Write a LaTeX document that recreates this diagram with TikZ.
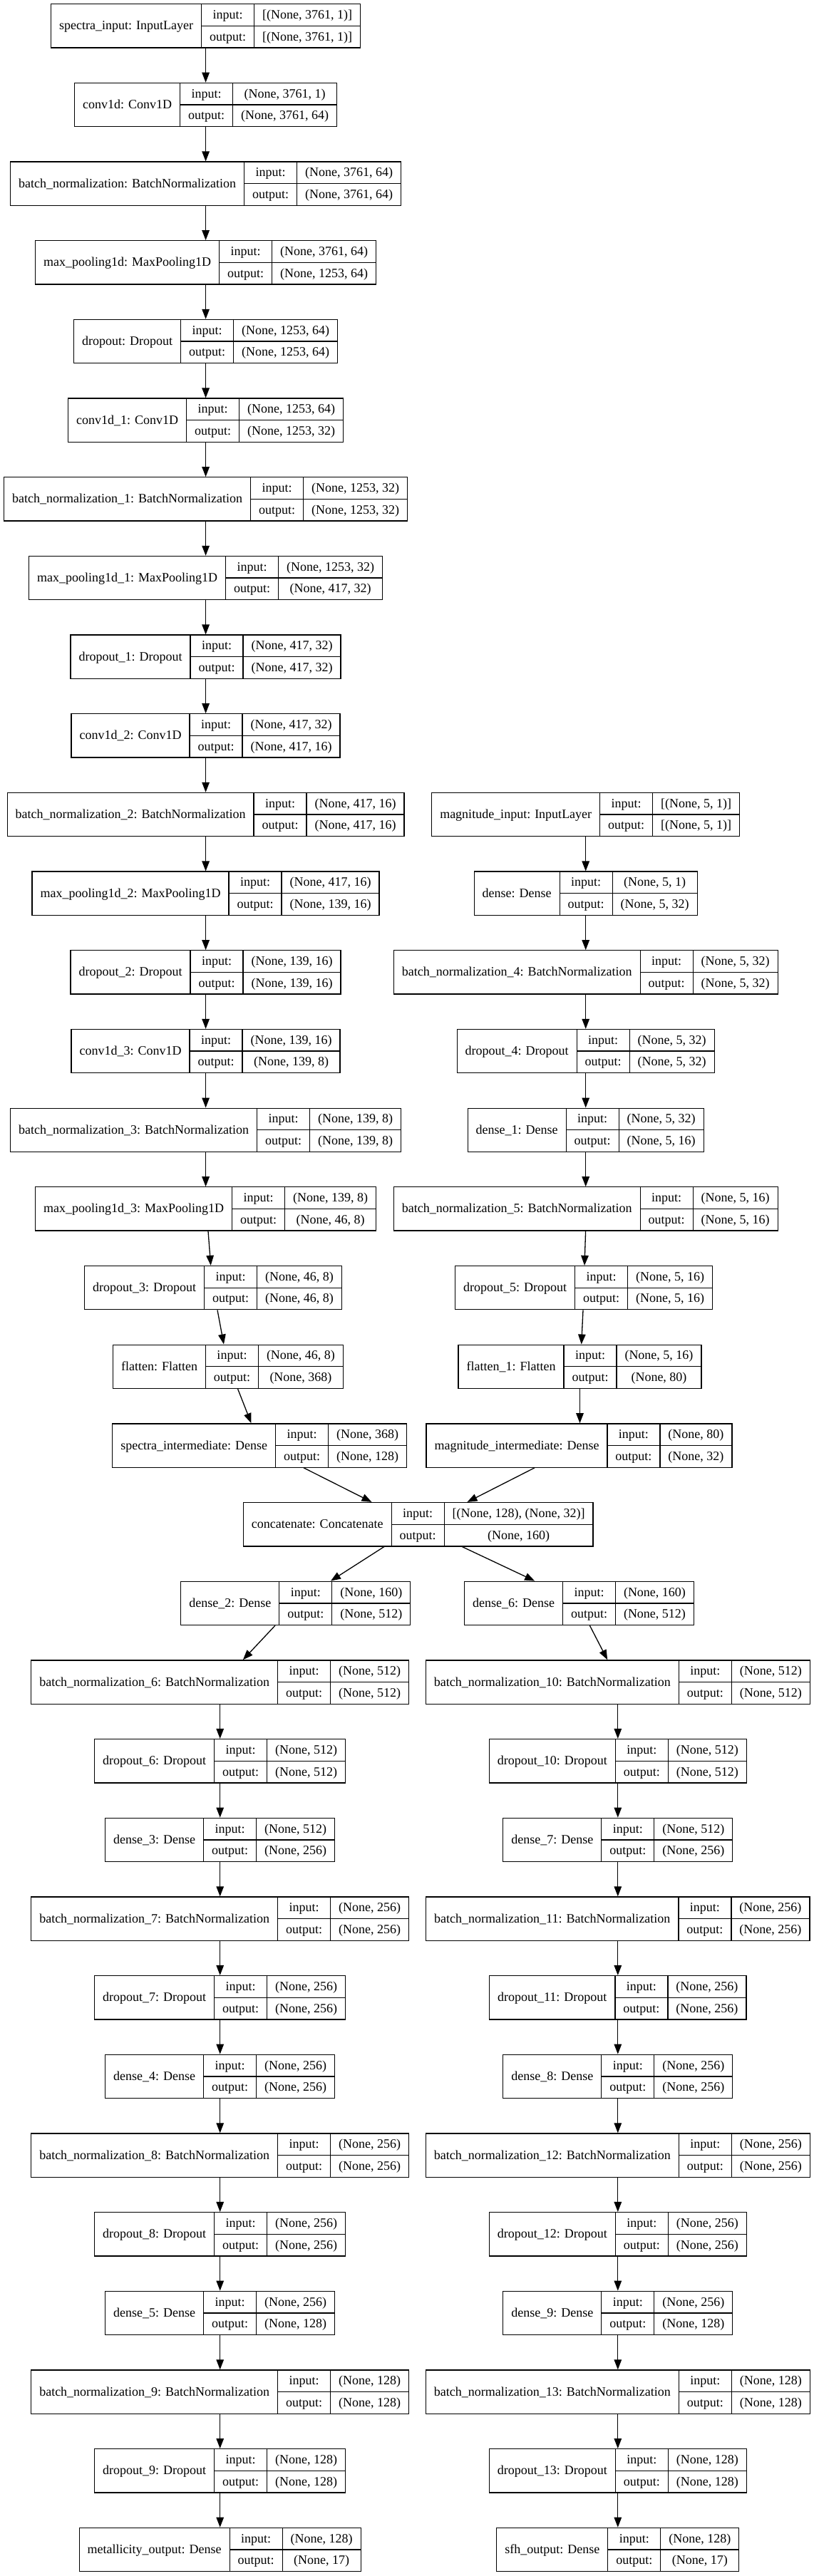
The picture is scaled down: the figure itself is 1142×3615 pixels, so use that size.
\documentclass[tikz,border=0pt]{standalone}
\usepackage{fontspec}
\setmainfont{Liberation Serif}
\usetikzlibrary{arrows.meta}
\newlength\lwA \newlength\lwB \newlength\lwC \newlength\lwD
\newcommand\lf{\fontsize{18}{21}\selectfont}
\tikzset{
  layerbox/.style={draw=black, line width=1.3pt, inner sep=0pt, minimum height=61.3pt},
  cellline/.style={draw=black, line width=1.3pt},
  txt/.style={anchor=base, inner sep=0pt, font=\lf},
  arr/.style={draw=black, line width=1.3pt, -{Triangle[length=14pt,width=10.5pt]}}
}
\newcommand\layer[6]{%
  \pgfinterruptpicture
    \settowidth\lwA{\lf #4}\global\lwA=\lwA
    \settowidth\lwB{\lf #5}\global\lwB=\lwB
    \settowidth\lwC{\lf #6}\global\lwC=\lwC
    \settowidth\lwD{\lf output:}\global\lwD=\lwD
  \endpgfinterruptpicture
  \ifdim\lwC>\lwB \global\lwB=\lwC\fi
  \pgfmathsetmacro\wa{\lwA+23}%
  \pgfmathsetmacro\wb{\lwD+23}%
  \pgfmathsetmacro\wc{\lwB+23}%
  \pgfmathsetmacro\tw{\wa+\wb+\wc}%
  \pgfmathsetmacro\yt{5.7+#3*110.675}%
  \pgfmathsetmacro\ym{\yt+30.65}%
  \pgfmathsetmacro\yb{\yt+61.3}%
  \pgfmathsetmacro\xl{#2-\tw/2}%
  \pgfmathsetmacro\xa{\xl+\wa}%
  \pgfmathsetmacro\xb{\xa+\wb}%
  \pgfmathsetmacro\xr{\xb+\wc}%
  \node[layerbox, minimum width=\tw pt] (#1) at (#2,\ym) {};
  \draw[cellline] (\xa,\yt) -- (\xa,\yb) (\xb,\yt) -- (\xb,\yb) (\xa,\ym) -- (\xr,\ym);
  \node[txt] at ({\xl+\wa/2},{\ym+5.5}) {#4};
  \node[txt] at ({\xa+\wb/2},{\yt+20.8}) {input:};
  \node[txt] at ({\xa+\wb/2},{\ym+20.8}) {output:};
  \node[txt] at ({\xb+\wc/2},{\yt+20.8}) {#5};
  \node[txt] at ({\xb+\wc/2},{\ym+20.8}) {#6};
}
\begin{document}
\begin{tikzpicture}[x=1pt,y=-1pt]
\useasboundingbox[fill=white] (0,0) rectangle (1142,3615);
% left upper column
\layer{L0}{288.6}{0}{spectra\_input: InputLayer}{[(None, 3761, 1)]}{[(None, 3761, 1)]}
\layer{L1}{288.6}{1}{conv1d: Conv1D}{(None, 3761, 1)}{(None, 3761, 64)}
\layer{L2}{288.6}{2}{batch\_normalization: BatchNormalization}{(None, 3761, 64)}{(None, 3761, 64)}
\layer{L3}{288.6}{3}{max\_pooling1d: MaxPooling1D}{(None, 3761, 64)}{(None, 1253, 64)}
\layer{L4}{288.6}{4}{dropout: Dropout}{(None, 1253, 64)}{(None, 1253, 64)}
\layer{L5}{288.6}{5}{conv1d\_1: Conv1D}{(None, 1253, 64)}{(None, 1253, 32)}
\layer{L6}{288.6}{6}{batch\_normalization\_1: BatchNormalization}{(None, 1253, 32)}{(None, 1253, 32)}
\layer{L7}{288.6}{7}{max\_pooling1d\_1: MaxPooling1D}{(None, 1253, 32)}{(None, 417, 32)}
\layer{L8}{288.6}{8}{dropout\_1: Dropout}{(None, 417, 32)}{(None, 417, 32)}
\layer{L9}{288.6}{9}{conv1d\_2: Conv1D}{(None, 417, 32)}{(None, 417, 16)}
\layer{L10}{288.6}{10}{batch\_normalization\_2: BatchNormalization}{(None, 417, 16)}{(None, 417, 16)}
\layer{L11}{288.6}{11}{max\_pooling1d\_2: MaxPooling1D}{(None, 417, 16)}{(None, 139, 16)}
\layer{L12}{288.6}{12}{dropout\_2: Dropout}{(None, 139, 16)}{(None, 139, 16)}
\layer{L13}{288.6}{13}{conv1d\_3: Conv1D}{(None, 139, 16)}{(None, 139, 8)}
\layer{L14}{288.6}{14}{batch\_normalization\_3: BatchNormalization}{(None, 139, 8)}{(None, 139, 8)}
\layer{L15}{288.6}{15}{max\_pooling1d\_3: MaxPooling1D}{(None, 139, 8)}{(None, 46, 8)}
\layer{L16}{299}{16}{dropout\_3: Dropout}{(None, 46, 8)}{(None, 46, 8)}
\layer{L17}{320}{17}{flatten: Flatten}{(None, 46, 8)}{(None, 368)}
\layer{L18}{364.2}{18}{spectra\_intermediate: Dense}{(None, 368)}{(None, 128)}
% right upper column
\layer{R10}{821.7}{10}{magnitude\_input: InputLayer}{[(None, 5, 1)]}{[(None, 5, 1)]}
\layer{R11}{821.7}{11}{dense: Dense}{(None, 5, 1)}{(None, 5, 32)}
\layer{R12}{821.7}{12}{batch\_normalization\_4: BatchNormalization}{(None, 5, 32)}{(None, 5, 32)}
\layer{R13}{821.7}{13}{dropout\_4: Dropout}{(None, 5, 32)}{(None, 5, 32)}
\layer{R14}{821.7}{14}{dense\_1: Dense}{(None, 5, 32)}{(None, 5, 16)}
\layer{R15}{821.7}{15}{batch\_normalization\_5: BatchNormalization}{(None, 5, 16)}{(None, 5, 16)}
\layer{R16}{819}{16}{dropout\_5: Dropout}{(None, 5, 16)}{(None, 5, 16)}
\layer{R17}{813.5}{17}{flatten\_1: Flatten}{(None, 5, 16)}{(None, 80)}
\layer{R18}{812.5}{18}{magnitude\_intermediate: Dense}{(None, 80)}{(None, 32)}
% merge
\layer{C19}{586.7}{19}{concatenate: Concatenate}{[(None, 128), (None, 32)]}{(None, 160)}
% left lower column
\layer{A20}{414.8}{20}{dense\_2: Dense}{(None, 160)}{(None, 512)}
\layer{A21}{308.7}{21}{batch\_normalization\_6: BatchNormalization}{(None, 512)}{(None, 512)}
\layer{A22}{308.7}{22}{dropout\_6: Dropout}{(None, 512)}{(None, 512)}
\layer{A23}{308.7}{23}{dense\_3: Dense}{(None, 512)}{(None, 256)}
\layer{A24}{308.7}{24}{batch\_normalization\_7: BatchNormalization}{(None, 256)}{(None, 256)}
\layer{A25}{308.7}{25}{dropout\_7: Dropout}{(None, 256)}{(None, 256)}
\layer{A26}{308.7}{26}{dense\_4: Dense}{(None, 256)}{(None, 256)}
\layer{A27}{308.7}{27}{batch\_normalization\_8: BatchNormalization}{(None, 256)}{(None, 256)}
\layer{A28}{308.7}{28}{dropout\_8: Dropout}{(None, 256)}{(None, 256)}
\layer{A29}{308.7}{29}{dense\_5: Dense}{(None, 256)}{(None, 128)}
\layer{A30}{308.7}{30}{batch\_normalization\_9: BatchNormalization}{(None, 128)}{(None, 128)}
\layer{A31}{308.7}{31}{dropout\_9: Dropout}{(None, 128)}{(None, 128)}
\layer{A32}{308.7}{32}{metallicity\_output: Dense}{(None, 128)}{(None, 17)}
% right lower column
\layer{B20}{812.5}{20}{dense\_6: Dense}{(None, 160)}{(None, 512)}
\layer{B21}{866.8}{21}{batch\_normalization\_10: BatchNormalization}{(None, 512)}{(None, 512)}
\layer{B22}{866.8}{22}{dropout\_10: Dropout}{(None, 512)}{(None, 512)}
\layer{B23}{866.8}{23}{dense\_7: Dense}{(None, 512)}{(None, 256)}
\layer{B24}{866.8}{24}{batch\_normalization\_11: BatchNormalization}{(None, 256)}{(None, 256)}
\layer{B25}{866.8}{25}{dropout\_11: Dropout}{(None, 256)}{(None, 256)}
\layer{B26}{866.8}{26}{dense\_8: Dense}{(None, 256)}{(None, 256)}
\layer{B27}{866.8}{27}{batch\_normalization\_12: BatchNormalization}{(None, 256)}{(None, 256)}
\layer{B28}{866.8}{28}{dropout\_12: Dropout}{(None, 256)}{(None, 256)}
\layer{B29}{866.8}{29}{dense\_9: Dense}{(None, 256)}{(None, 128)}
\layer{B30}{866.8}{30}{batch\_normalization\_13: BatchNormalization}{(None, 128)}{(None, 128)}
\layer{B31}{866.8}{31}{dropout\_13: Dropout}{(None, 128)}{(None, 128)}
\layer{B32}{866.8}{32}{sfh\_output: Dense}{(None, 128)}{(None, 17)}
% connectors
\foreach \a/\b in {L0/L1,L1/L2,L2/L3,L3/L4,L4/L5,L5/L6,L6/L7,L7/L8,L8/L9,L9/L10,L10/L11,L11/L12,L12/L13,L13/L14,L14/L15,
  R10/R11,R11/R12,R12/R13,R13/R14,R14/R15,
  A21/A22,A22/A23,A23/A24,A24/A25,A25/A26,A26/A27,A27/A28,A28/A29,A29/A30,A30/A31,A31/A32,
  B21/B22,B22/B23,B23/B24,B24/B25,B25/B26,B26/B27,B27/B28,B28/B29,B29/B30,B30/B31,B31/B32}
  {\draw[arr] (\a.south) -- (\b.north);}
\draw[arr] ([xshift=3.4pt]L15.south) -- ([xshift=-3.3pt]L16.north);
\draw[arr] ([xshift=6pt]L16.south) -- ([xshift=-6pt]L17.north);
\draw[arr] ([xshift=13.6pt]L17.south) -- ([xshift=-11.7pt]L18.north);
\draw[arr] ([xshift=61.8pt]L18.south) -- ([xshift=-65.2pt]C19.north);
\draw[arr] ([xshift=-0.1pt]R15.south) -- ([xshift=1pt]R16.north);
\draw[arr] ([xshift=-1pt]R16.south) -- ([xshift=2.2pt]R17.north);
\draw[arr] (R17.south) -- ([xshift=1pt]R18.north);
\draw[arr] ([xshift=-62.5pt]R18.south) -- ([xshift=68.8pt]C19.north);
\draw[arr] ([xshift=-47.7pt]C19.south) -- ([xshift=49.2pt]A20.north);
\draw[arr] ([xshift=61.5pt]C19.south) -- ([xshift=-62.3pt]B20.north);
\draw[arr] ([xshift=-28.8pt]A20.south) -- ([xshift=32.2pt]A21.north);
\draw[arr] ([xshift=14.9pt]B20.south) -- ([xshift=-14.6pt]B21.north);
\end{tikzpicture}
\end{document}
